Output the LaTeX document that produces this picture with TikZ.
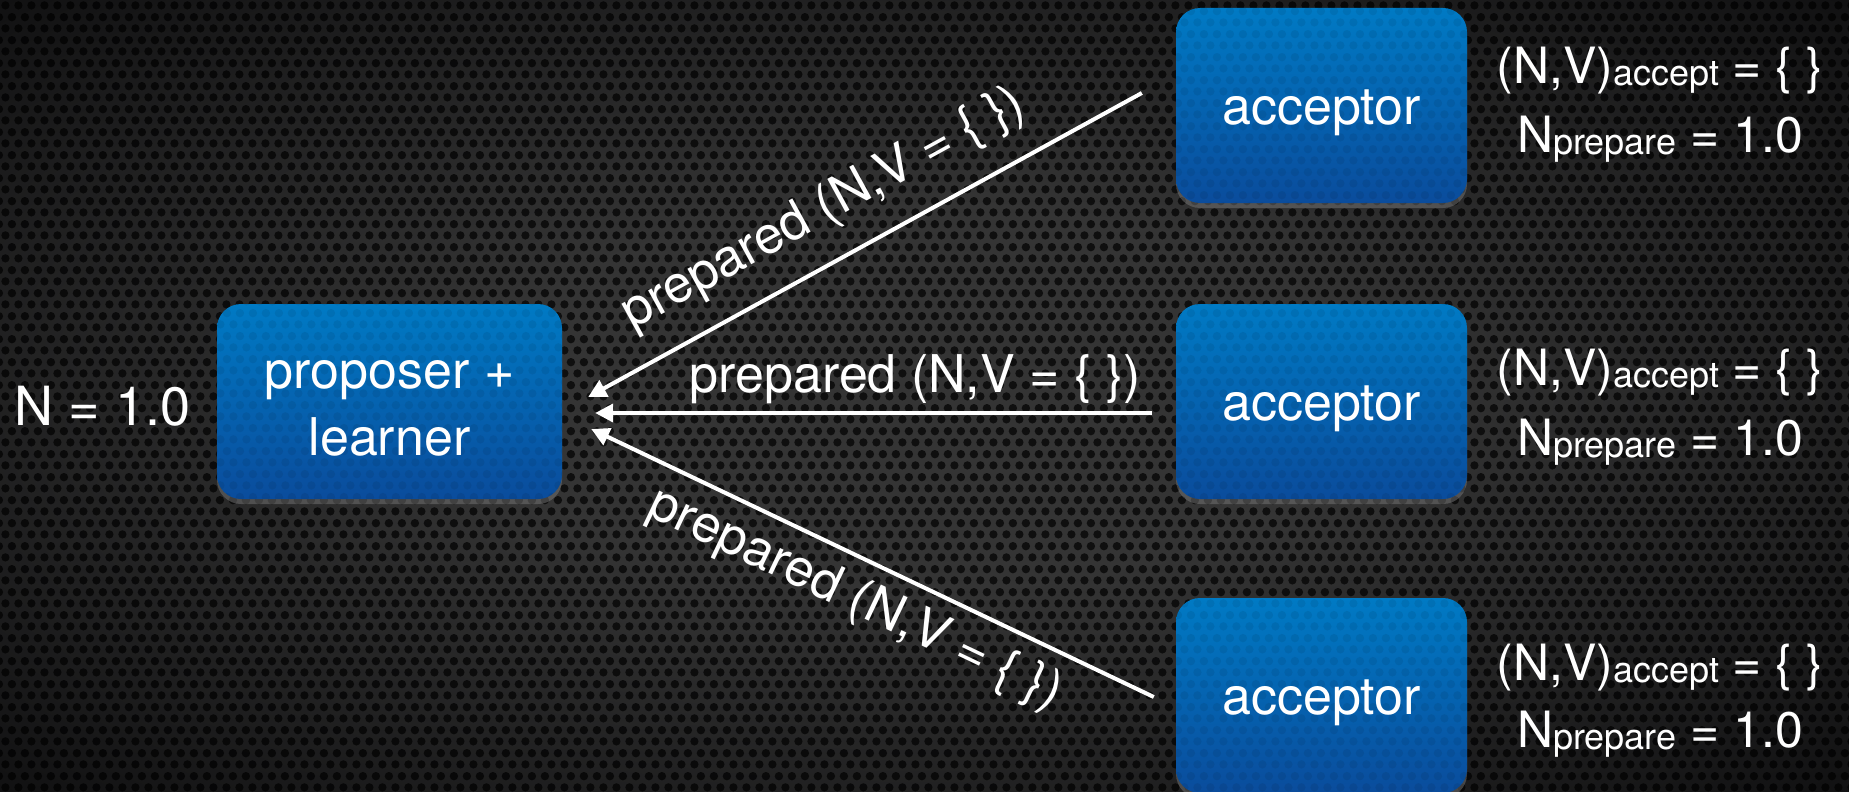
\documentclass[tikz,border=0pt]{standalone}
\usepackage{fontspec}
\setmainfont{TeX Gyre Heros}
\usetikzlibrary{arrows.meta,shadows,patterns.meta}
\definecolor{boxtop}{RGB}{0,122,196}
\definecolor{boxbot}{RGB}{10,76,156}
\definecolor{bgin}{RGB}{52,52,52}
\definecolor{bgout}{RGB}{16,16,17}
\pgfdeclareradialshading{vign}{\pgfpoint{0bp}{0bp}}{color(0bp)=(bgin); color(12bp)=(bgin); color(36bp)=(bgout); color(50bp)=(bgout)}
\pgfdeclarepattern{
  name=holes,
  type=uncolored,
  bottom left={\pgfpoint{0pt}{0pt}},
  top right={\pgfpoint{13.4pt}{23.2pt}},
  tile size={\pgfpoint{13.4pt}{23.2pt}},
  code={
    \pgfpathcircle{\pgfpoint{6.7pt}{5.8pt}}{4.3pt}
    \pgfpathcircle{\pgfpoint{0pt}{17.4pt}}{4.3pt}
    \pgfpathcircle{\pgfpoint{13.4pt}{17.4pt}}{4.3pt}
    \pgfusepath{fill}
  }
}
\newcommand\nvacc{(N,V)\raisebox{-2pt}{\fontsize{36}{40}\selectfont accept} = \{ \}}
\newcommand\nprep{N\raisebox{-2pt}{\fontsize{36}{40}\selectfont prepare} = 1.0}
\tikzset{
  box/.style={rounded corners=24pt, top color=boxtop, bottom color=boxbot,
    draw=none, minimum height=195pt, inner sep=0pt,
    drop shadow={shadow xshift=0pt, shadow yshift=-5pt, opacity=0.45},
    postaction={pattern=holes, pattern color=black, fill opacity=0.07}},
  lbl/.style={text=white, font=\fontsize{52}{62}\selectfont, inner sep=0pt},
  side/.style={text=white, font=\fontsize{50}{60}\selectfont, inner sep=0pt, anchor=base},
  arr/.style={draw=white, line width=4pt, -{Triangle[length=18pt,width=18pt]}},
  msg/.style={lbl, sloped}
}
\begin{document}
\begin{tikzpicture}[x=1pt,y=-1pt]
\useasboundingbox (0,0) rectangle (1849,792);
\shade[shading=vign] (0,0) rectangle (1849,792);
\fill[pattern=holes, pattern color=black, fill opacity=0.7] (0,0) rectangle (1849,792);

% proposer
\node[box, minimum width=345pt] (p) at (389.5,401.5) {};
\node[lbl, anchor=base] (pt1) at ([yshift=13.5pt]p.center) {proposer +};
\node[lbl, anchor=base] (pt2) at ([yshift=-53.5pt]p.center) {learner};
\node[lbl, anchor=base, font=\fontsize{54}{62}\selectfont] (n) at (102.5,425) {N = 1.0};

% acceptors
\node[box, minimum width=291pt] (a1) at (1321.5,105.5) {};
\node[box, minimum width=291pt] (a2) at (1321.5,401.5) {};
\node[box, minimum width=291pt] (a3) at (1321.5,695.5) {};
\node[lbl, anchor=base] (a1t) at ([yshift=-19pt]a1.center) {acceptor};
\node[lbl, anchor=base] (a2t) at ([yshift=-19pt]a2.center) {acceptor};
\node[lbl, anchor=base] (a3t) at ([yshift=-19pt]a3.center) {acceptor};

% side states
\node[side] (s1a) at (1660,83) {\nvacc};
\node[side] (s1b) at (1660,152) {\nprep};
\node[side] (s2a) at (1660,385) {\nvacc};
\node[side] (s2b) at (1660,455) {\nprep};
\node[side] (s3a) at (1660,680) {\nvacc};
\node[side] (s3b) at (1660,747) {\nprep};

% messages
\draw[arr] ([xshift=-34pt,yshift=12.5pt]a1.west) --
  node[msg, pos=0.53, above, inner sep=24pt] (m1) {prepared (N,V = \{ \})}
  ([xshift=26pt,yshift=4.5pt]p.east);
\draw[arr] ([xshift=-24pt,yshift=-11.5pt]a2.west) --
  node[msg, pos=0.425, above, inner sep=7pt] (m2) {prepared (N,V = \{ \})}
  ([xshift=33pt,yshift=-11.5pt]p.east);
\draw[arr] ([xshift=-22pt,yshift=-1.5pt]a3.west) --
  node[msg, pos=0.5, below, inner sep=14pt] (m3) {prepared (N,V = \{ \})}
  ([xshift=29pt,yshift=-27.5pt]p.east);
\end{tikzpicture}
\end{document}
